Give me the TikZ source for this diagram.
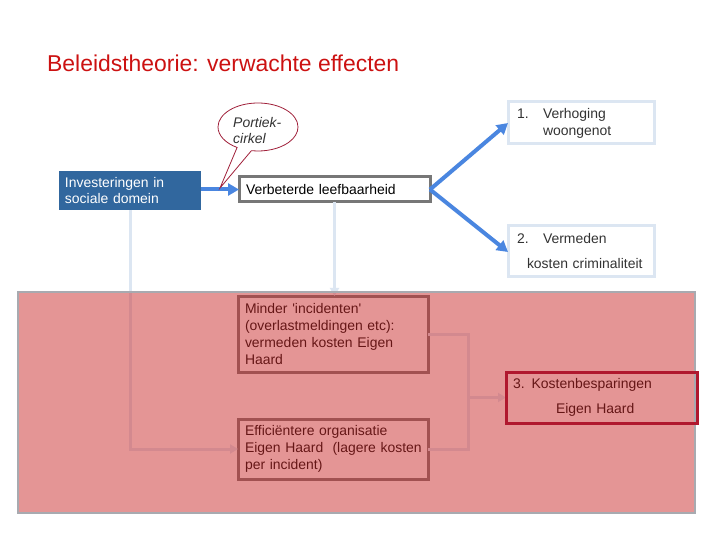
\documentclass[tikz,border=0pt]{standalone}
\usepackage{fontspec}
\setmainfont{Liberation Sans}[Ligatures=TeXOff]
\usetikzlibrary{arrows.meta,shapes.callouts,shapes.geometric}
\definecolor{titlered}{HTML}{CC1111}
\definecolor{boxblue}{HTML}{31679E}
\definecolor{arrowblue}{HTML}{4A86E0}
\definecolor{lightline}{HTML}{DCE6F2}
\definecolor{boxgray}{HTML}{777777}
\definecolor{overlayred}{RGB}{203,45,45}
\definecolor{rimgray}{HTML}{A8AAB0}
\definecolor{costred}{HTML}{B0182E}
\definecolor{costtext}{HTML}{651616}
\definecolor{calloutred}{HTML}{A0203A}
\definecolor{textgray}{HTML}{333333}
\tikzset{
  boxtext/.style={font=\fontsize{14}{17}\selectfont},
  stdbox/.style={rectangle, boxtext, align=left, inner ysep=0pt, outer sep=0pt},
  bluearrow/.style={draw=arrowblue, line width=4bp, -{Triangle[length=11bp,width=12bp]}},
  lightarrow/.style={draw=lightline, line width=3bp, -{Triangle[length=8bp,width=9bp]}},
  lightline/.style={draw=lightline, line width=3bp},
}
\begin{document}
\begin{tikzpicture}[x=1bp,y=-1bp]
\useasboundingbox (0,0) rectangle (720,540);
\fill[white] (0,0) rectangle (720,540);

% title
\node[anchor=base west, inner sep=0pt, text=titlered, font=\fontsize{23}{27}\selectfont] (title) at (47,72) {Beleidstheorie: verwachte effecten};

% boxes
\node[stdbox, fill=boxblue, text=white, minimum width=142bp, minimum height=39bp, text width=130bp, inner xsep=6bp] (inv) at (130,190.5) {Investeringen in\\sociale domein};
\node[stdbox, draw=boxgray, line width=3bp, fill=white, minimum width=191bp, minimum height=25bp, text width=177bp, inner xsep=7bp] (verb) at (334.5,189.5) {Verbeterde leefbaarheid};
\node[stdbox, draw=lightline, line width=3bp, text=textgray, minimum width=146bp, minimum height=42bp, text width=128bp, inner xsep=9bp] (b1) at (581,123) {\makebox[26bp][l]{1.}Verhoging\\\hspace*{26bp}woongenot};
\node[stdbox, draw=lightline, line width=3bp, text=textgray, minimum width=146bp, minimum height=50bp, text width=128bp, inner xsep=9bp] (b2) at (581,251) {\makebox[26bp][l]{2.}Vermeden\\[9bp]\hspace*{10bp}kosten criminaliteit};
\node[stdbox, draw=boxgray, line width=3bp, minimum width=190bp, minimum height=76bp, text width=176bp, inner xsep=7bp] (minder) at (333,334) {Minder 'incidenten'\\(overlastmeldingen etc):\\vermeden kosten Eigen\\Haard};
\node[stdbox, draw=boxgray, line width=3bp, minimum width=190bp, minimum height=60bp, text width=176bp, inner xsep=7bp] (eff) at (333,449) {Efficiëntere organisatie\\\makebox[176bp][l]{Eigen Haard\ \ (lagere kosten}\\per incident)};

% light connectors
\draw[lightarrow] (verb.south) -- (verb.south |- minder.north);
\draw[lightarrow] (inv.south) |- (eff.west);
\coordinate (join) at (468,397.5);
\draw[lightline] (minder.east) -| (join);
\draw[lightline] (eff.east) -| (join);
\draw[lightarrow] (join) -- (506,397.5) coordinate (costin);

% blue arrows
\draw[bluearrow] (inv.east |- verb.west) -- (verb.west);
\draw[bluearrow] (verb.east) -- (b1.west);
\draw[bluearrow] (verb.east) -- ([yshift=-1bp]b2.west);

% callout
\node[ellipse callout, draw=calloutred, line width=0.8bp, fill=white, minimum width=80bp, minimum height=48bp, callout absolute pointer={(220,188)}, callout pointer arc=22] (callout) at (258,127) {};
\node[anchor=west, align=left, inner sep=0pt, font=\fontsize{14}{17}\itshape\selectfont, text=textgray] (callouttext) at (233,130.5) {Portiek-\\cirkel};

% red overlay
\fill[overlayred, fill opacity=0.5] (18,292) rectangle (695,513);
\draw[rimgray, line width=2bp] (18,292) rectangle (695,513);

% cost box
\node[stdbox, draw=costred, line width=3bp, text=costtext, minimum width=191bp, minimum height=51bp, text width=177bp, inner xsep=7bp] (cost) at (601.5,397.5) {3. Kostenbesparingen\\[8bp]\hspace*{43bp}Eigen Haard};
\end{tikzpicture}
\end{document}
